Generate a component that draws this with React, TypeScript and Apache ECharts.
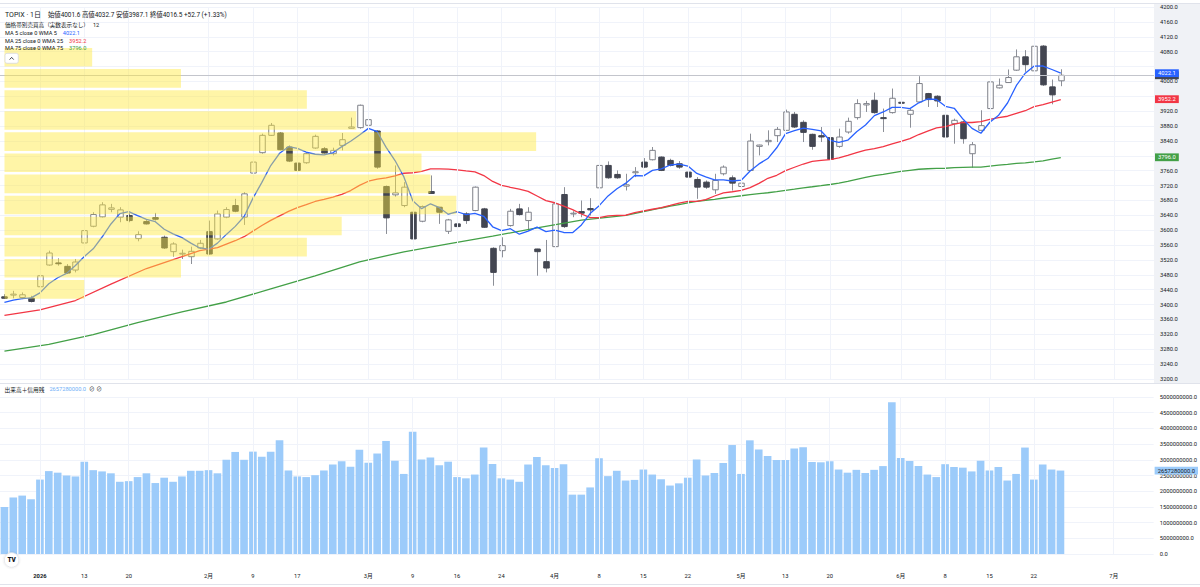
import React, { useEffect, useRef } from "react";
import * as echarts from "echarts";

const FONT = "Roboto, 'Noto Sans CJK JP', sans-serif";
const JP = "'Noto Sans CJK JP', Roboto, sans-serif";

// ---- categories (trading days) ----
const dec25 = ["12/25", "12/26", "12/29", "12/30"];
const jan26 = ["01/05", "01/06", "01/07", "01/08", "01/09", "01/13", "01/14", "01/15", "01/16", "01/19", "01/20", "01/21", "01/22", "01/23", "01/26", "01/27", "01/28", "01/29", "01/30"];
const feb26 = ["02/02", "02/03", "02/04", "02/05", "02/06", "02/09", "02/10", "02/12", "02/13", "02/16", "02/17", "02/18", "02/19", "02/20", "02/24", "02/25", "02/26", "02/27"];
const mar26 = ["03/02", "03/03", "03/04", "03/05", "03/06", "03/09", "03/10", "03/11", "03/12", "03/13", "03/16", "03/17", "03/18", "03/19", "03/23", "03/24", "03/25", "03/26", "03/27", "03/30", "03/31"];
const apr26 = ["04/01", "04/02", "04/03", "04/06", "04/07", "04/08", "04/09", "04/10", "04/13", "04/14", "04/15", "04/16", "04/17", "04/20", "04/21", "04/22", "04/23", "04/24", "04/27", "04/28", "04/30"];
const may26 = ["05/01", "05/07", "05/08", "05/11", "05/12", "05/13", "05/14", "05/15", "05/18", "05/19", "05/20", "05/21", "05/22", "05/25", "05/26", "05/27", "05/28", "05/29"];
const jun26 = ["06/01", "06/02", "06/03", "06/04", "06/05", "06/08", "06/09", "06/10", "06/11", "06/12", "06/15", "06/16", "06/17", "06/18", "06/19", "06/22", "06/23", "06/24", "06/25"];
const futureSlots = ["+1", "+2", "+3", "+4", "+5", "+6", "+7", "+8", "+9", "+10"];
const tradingDays = [...dec25, ...jan26, ...feb26, ...mar26, ...apr26, ...may26, ...jun26];
const categories = [...tradingDays, ...futureSlots];

// tick labels on the time axis: [category, text]
const timeTicks: [string, string][] = [
  ["01/05", "2026"], ["01/13", "13"], ["01/20", "20"], ["02/02", "2月"], ["02/09", "9"], ["02/17", "17"],
  ["03/02", "3月"], ["03/09", "9"], ["03/16", "16"], ["03/24", "24"], ["04/01", "4月"], ["04/08", "8"],
  ["04/15", "15"], ["04/22", "22"], ["05/01", "5月"], ["05/13", "13"], ["05/20", "20"], ["06/01", "6月"],
  ["06/08", "8"], ["06/15", "15"], ["06/22", "22"], ["+6", "7月"],
];
const yearTick = "01/05";

// ---- OHLC ----
const opens = [3421, 3425.5, 3419.2, 3417.4, 3448, 3506.4, 3512, 3502.8, 3492.9, 3565.7,
  3610.6, 3635.8, 3656, 3634.9, 3639.4, 3577.4, 3623.2, 3634, 3581, 3542.3,
  3536, 3528.8, 3552.2, 3596.2, 3576.5, 3634.9, 3666.3, 3634.9, 3753.5, 3808.3,
  3855, 3861.3, 3823.6, 3780.4, 3781.3, 3820.9, 3819, 3805.6, 3828, 3874,
  3875.7, 3882, 3866.7, 3717.5, 3695, 3666.3, 3648.3, 3624.1, 3704, 3661.8,
  3597.1, 3617, 3643.9, 3652.8, 3657.3, 3551.3, 3545, 3612.4, 3657.3, 3625.9,
  3549.5, 3515.4, 3555.8, 3696, 3644.8, 3650.1, 3658.2, 3713.9, 3774.1, 3749.9,
  3718.4, 3754.4, 3783.1, 3789.4, 3796.6, 3787.6, 3778.6, 3756.2, 3736.4, 3729.2,
  3708.5, 3751.7, 3740.9, 3717.5, 3760.6, 3825.3, 3837.9, 3854.1, 3868.5, 3911.6,
  3890, 3857.7, 3854.1, 3848.7, 3825.3, 3863.9, 3902.6, 3936.7, 3949.3, 3902.6,
  3916.1, 3943.9, 3911.6, 3944.8, 3967.3, 3960.1, 3908.9, 3886.4, 3891, 3805.6,
  3868.5, 3926.9, 3982.6, 3996.9, 4030.2, 4066.1, 4028.4, 4094.9, 3985.3, 4001.6];
const highs = [3428, 3437, 3432.7, 3423.7, 3486.6, 3545, 3524.4, 3509, 3522.6, 3609.7,
  3648.4, 3675.3, 3670.8, 3661.8, 3645.7, 3597.1, 3627.7, 3646.5, 3585.5, 3567.5,
  3547.7, 3555.8, 3573.8, 3625.9, 3652.8, 3661.8, 3684.3, 3702.3, 3823.6, 3859.5,
  3888.2, 3864, 3828, 3783.1, 3810, 3856.8, 3823.6, 3821.8, 3861.3, 3902.6,
  3937.7, 3899.9, 3868.5, 3720.2, 3774.1, 3729.2, 3650, 3666.3, 3747.2, 3662.5,
  3630.4, 3634.9, 3648.4, 3717.5, 3660, 3554, 3581, 3657.3, 3670.8, 3661.8,
  3550, 3573.8, 3675.3, 3715.7, 3651, 3679.8, 3686.1, 3778.6, 3784.9, 3760.7,
  3751.7, 3769.6, 3793.9, 3823.6, 3798.4, 3792.1, 3785.8, 3760.7, 3742.7, 3733.7,
  3751.7, 3774.1, 3747.2, 3733.7, 3859.5, 3829.8, 3868.5, 3877.4, 3924.2, 3917.9,
  3895.4, 3859.5, 3877.4, 3850.5, 3872.9, 3902.6, 3952, 3947.5, 3970, 3926.9,
  3980.8, 3971.8, 3926, 4014, 3969.1, 3962.8, 3922.4, 3899.9, 3893.6, 3837,
  3922.4, 4030.2, 4007.7, 4032, 4085.9, 4084.1, 4102.1, 4097.6, 4005, 4032.7];
const lows = [3415, 3417, 3414.7, 3405.8, 3446.2, 3504.6, 3504.6, 3482.1, 3486.6, 3563,
  3607.9, 3634, 3648.3, 3621.4, 3621.4, 3570.2, 3615.1, 3625.9, 3549.5, 3528.8,
  3522.6, 3509.1, 3549.5, 3534.2, 3574.7, 3632.2, 3648.3, 3614.2, 3751.7, 3805.6,
  3853.2, 3814.6, 3783.1, 3747.2, 3778.6, 3819, 3805.6, 3801.1, 3814.6, 3873,
  3873, 3823.6, 3765.1, 3589.9, 3690, 3661.8, 3495.6, 3621.4, 3697.8, 3617,
  3589.9, 3588.2, 3617, 3651, 3606.1, 3450.7, 3527, 3609.7, 3639.4, 3598.9,
  3477.6, 3486.6, 3554, 3606.1, 3634.9, 3634.9, 3639.4, 3711.2, 3738.2, 3738.2,
  3706.8, 3742.7, 3767, 3787.6, 3758.9, 3771.4, 3765.1, 3733.7, 3684.3, 3711.2,
  3697.7, 3747.2, 3706.7, 3693.2, 3760.6, 3801.1, 3828, 3837, 3866.7, 3874.7,
  3837, 3816.3, 3837, 3765.1, 3821.7, 3859.5, 3897.2, 3917.9, 3913.4, 3863.9,
  3913.4, 3931.3, 3875.6, 3942.1, 3931.3, 3931.3, 3819, 3832.5, 3832.5, 3767.8,
  3868.5, 3925.1, 3980.8, 3996, 4028.4, 4025.7, 4025.7, 3987.9, 3938.5, 3987.1];
const closes = [3417, 3428.2, 3426.4, 3408.4, 3477.6, 3538.7, 3510, 3484.8, 3514.5, 3598.9,
  3642.1, 3668.1, 3660, 3654.6, 3625.9, 3588.2, 3616.9, 3629.5, 3552.2, 3563,
  3538, 3543.2, 3564.8, 3536, 3643.9, 3655.5, 3651, 3697.8, 3783.1, 3855,
  3882, 3816.4, 3785.8, 3760.7, 3805.6, 3852.3, 3807.4, 3814.6, 3843.3, 3877.5,
  3935.9, 3897.2, 3769.6, 3633.1, 3700.4, 3715.7, 3576.5, 3663.6, 3698.7, 3648.3,
  3627.7, 3609.7, 3625.9, 3715.7, 3607.9, 3486.6, 3558.5, 3651, 3642, 3648.3,
  3542.3, 3498.3, 3670.8, 3609.7, 3645.7, 3645.7, 3654.6, 3774.1, 3740.9, 3740.9,
  3722, 3757.1, 3769.6, 3814.6, 3760.7, 3774.1, 3769.6, 3742.7, 3715.7, 3715.7,
  3733.7, 3769.6, 3726.5, 3726.5, 3839.7, 3828.9, 3841.5, 3871.1, 3917.9, 3877.4,
  3863, 3825.3, 3850.5, 3790.3, 3850.5, 3892.7, 3940.3, 3940.3, 3916.1, 3899.9,
  3954.7, 3941.2, 3922.4, 3994.2, 3951.1, 3947.5, 3850.5, 3895.4, 3846, 3829.8,
  3881, 3998.7, 3989.7, 4010.4, 4066.1, 4045, 4094.5, 3990.7, 3963.8, 4016.5];

// ---- volume (billions of shares) ----
const volumesBn = [1.5, 1.8, 1.86, 1.74, 2.37, 2.64, 2.59, 2.5, 2.47, 2.94,
  2.67, 2.63, 2.57, 2.3, 2.32, 2.45, 2.57, 2.26, 2.43, 2.3,
  2.47, 2.65, 2.65, 2.67, 2.57, 3.0, 3.25, 3.0, 3.26, 3.1,
  3.26, 3.62, 2.66, 2.47, 2.45, 2.51, 2.66, 2.85, 2.95, 2.78,
  3.32, 2.91, 3.2, 3.6, 2.97, 2.55, 3.89, 3.01, 3.07, 2.83,
  2.94, 2.45, 2.41, 2.53, 3.39, 2.87, 2.41, 2.37, 2.3, 2.85,
  3.09, 2.83, 2.74, 2.86, 1.89, 1.89, 2.12, 3.05, 2.48, 2.65,
  2.34, 2.36, 2.69, 2.53, 2.38, 2.18, 2.25, 2.43, 3.01, 2.5,
  2.58, 2.9, 3.47, 2.55, 3.62, 3.33, 3.12, 2.99, 2.99, 3.36,
  3.4, 2.93, 2.92, 2.95, 2.69, 2.59, 2.68, 2.58, 2.68, 2.8,
  4.83, 3.06, 2.96, 2.8, 2.53, 2.45, 2.86, 2.77, 2.75, 2.63,
  2.97, 2.66, 2.77, 2.34, 2.55, 3.39, 2.37, 2.85, 2.69, 2.65728];

const ma5Knots: [number, number][] = [[0, 3406], [1, 3412], [2, 3416], [3, 3418]];
const ma25Knots: [number, number][] = [[0, 3371], [4, 3386], [8, 3411], [12, 3455], [16, 3497], [20, 3529], [22, 3545]];
const ma75Knots: [number, number][] = [[0, 3275], [5, 3293], [10, 3319.5], [15, 3351.5], [20, 3380.6], [25, 3407], [30, 3442], [35, 3477], [40, 3515], [45, 3542], [50, 3563], [55, 3584], [60, 3606], [65, 3627], [70, 3640]];
const maLegendValues = { ma5: 4022.1, ma25: 3952.2, ma75: 3796.0 };

// ---- volume profile (12 rows, top to bottom, billions of shares) ----
const vpHigh = 4093.3;
const vpLow = 3412.6;
const vpRowsVolBn = [7.8, 15.7, 26.9, 31.3, 47.3, 37.1, 37.9, 40.2, 30.0, 26.9, 15.7, 7.1];

// ---- axes ----
const priceMin = 3200, priceMax = 4200, priceStep = 40;
const volMin = 0, volMax = 5e9, volStep = 5e8;

// ---- styles ----
const C_MA5 = "#2962ff", C_MA25 = "#f23645", C_MA75 = "#43a047";
const C_UP_BORDER = "#7e8089", C_DOWN = "#434651", C_WICK = "#8c8f97";
const C_VOL = "#9ccbfa";
const C_TEXT = "#131722";
const GRID_LINE = "#f0f3fa";
const PANE_W = 1154;

function movingAverage(n: number, knots: [number, number][]) {
  const known = new Map(knots);
  return closes.map((_, i) => {
    if (i < n - 1) return known.has(i) ? (known.get(i) as number) : null;
    let s = 0;
    for (let k = i - n + 1; k <= i; k++) s += closes[k];
    return Math.round((s / n) * 100) / 100;
  });
}

function buildOption() {
  const last = closes.length - 1;
  const chg = closes[last] - closes[last - 1];
  const pct = (chg / closes[last - 1]) * 100;
  const sign = chg >= 0 ? "+" : "";
  const ohlcText = `始値${opens[last].toFixed(1)} 高値${highs[last].toFixed(1)} 安値${lows[last].toFixed(1)} 終値${closes[last].toFixed(1)} ${sign}${chg.toFixed(1)} (${sign}${pct.toFixed(2)}%)`;

  const volumes = volumesBn.map((v) => Math.round(v * 1e9));
  const lastVol = volumes[volumes.length - 1];

  const ma5 = movingAverage(5, ma5Knots);
  const ma25 = movingAverage(25, ma25Knots);
  const ma75 = movingAverage(75, ma75Knots);

  const candleData = closes.map((c, i) => [i, opens[i], c, lows[i], highs[i]]);
  const vpRowSize = (vpHigh - vpLow) / vpRowsVolBn.length;
  const vpData = vpRowsVolBn.map((v, r) => [v, vpHigh - r * vpRowSize, vpHigh - (r + 1) * vpRowSize]);
  const tickMap = new Map(timeTicks);

  // axis labels covered by the MA value tags on the price scale are not drawn
  const tagValues = [maLegendValues.ma5, maLegendValues.ma25, maLegendValues.ma75];
  const priceLabel = (v: number) => (tagValues.some((t) => Math.abs(t - v) < 18) ? "" : v.toFixed(1));

  const vLines = timeTicks.map(([k]) => ({ xAxis: k }));
  const gridMark = {
    symbol: ["none", "none"],
    silent: true,
    animation: false,
    label: { show: false },
    lineStyle: { color: GRID_LINE, width: 1, type: "solid" },
    data: vLines,
  };

  const axisTag = (value: number, bg: string, fg: string, text: string) => ({
    yAxis: value,
    lineStyle: { color: "rgba(0,0,0,0)", width: 1 },
    label: {
      show: true,
      position: "end",
      distance: 1,
      formatter: () => text,
      backgroundColor: bg,
      color: fg,
      fontSize: 5.8,
      fontFamily: FONT,
      padding: [1, 3, 1, 3],
    },
  });

  const maSeries = (name: string, data: (number | null)[], color: string, tag: number) => ({
    name,
    type: "line",
    xAxisIndex: 0,
    yAxisIndex: 0,
    data,
    connectNulls: true,
    showSymbol: false,
    symbol: "none",
    silent: true,
    z: 3,
    lineStyle: { color, width: 1.3 },
    markLine: {
      symbol: ["none", "none"],
      silent: true,
      animation: false,
      data: [axisTag(tag, color, "#ffffff", tag.toFixed(1))],
    },
  });

  const txt = (x: number, y: number, text: string, rich: any, z = 10) => ({
    type: "text",
    x,
    y,
    z,
    style: { text, rich, verticalAlign: "middle", textVerticalAlign: "middle" },
  });

  const legendRich = (valueColor: string) => ({
    a: { fontSize: 5.6, fontFamily: FONT, fill: C_TEXT },
    v: { fontSize: 5.6, fontFamily: FONT, fill: valueColor, padding: [0, 0, 0, 6] },
  });

  return {
    animation: false,
    backgroundColor: "#ffffff",
    textStyle: { fontFamily: FONT },
    grid: [
      { left: 0, top: 7, width: PANE_W, height: 372 },
      { left: 0, top: 397, width: PANE_W, height: 157 },
    ],
    xAxis: [
      {
        type: "category", gridIndex: 0, data: categories, boundaryGap: true,
        axisLine: { show: false }, axisTick: { show: false }, axisLabel: { show: false }, splitLine: { show: false },
      },
      {
        type: "category", gridIndex: 1, data: categories, boundaryGap: true,
        axisLine: { show: false }, axisTick: { show: false }, splitLine: { show: false },
        axisLabel: {
          show: true,
          interval: (_i: number, value: string) => tickMap.has(value),
          formatter: (value: string) => (value === yearTick ? `{y|${tickMap.get(value)}}` : tickMap.get(value) || ""),
          margin: 19,
          fontSize: 5.8,
          color: C_TEXT,
          fontFamily: FONT,
          rich: { y: { fontSize: 5.8, fontWeight: "bold", color: C_TEXT, fontFamily: FONT } },
        },
      },
      { type: "value", gridIndex: 0, min: -0.4, max: 102.27, show: false },
    ],
    yAxis: [
      {
        type: "value", gridIndex: 0, position: "right", min: priceMin, max: priceMax, interval: priceStep,
        axisLine: { show: false }, axisTick: { show: false },
        axisLabel: { formatter: priceLabel, fontSize: 5.8, color: C_TEXT, margin: 6, fontFamily: FONT },
        splitLine: { lineStyle: { color: GRID_LINE, width: 1 } },
      },
      {
        type: "value", gridIndex: 1, position: "right", min: volMin, max: volMax, interval: volStep,
        axisLine: { show: false }, axisTick: { show: false },
        axisLabel: { formatter: (v: number) => v.toFixed(1), fontSize: 5.8, color: C_TEXT, margin: 6, fontFamily: FONT },
        splitLine: { lineStyle: { color: GRID_LINE, width: 1 } },
      },
    ],
    series: [
      {
        name: "grid-price", type: "line", xAxisIndex: 0, yAxisIndex: 0, data: closes, z: 1,
        showSymbol: false, symbol: "none", silent: true, lineStyle: { opacity: 0 },
        markLine: {
          ...gridMark,
          data: [
            ...vLines,
            {
              yAxis: closes[last],
              lineStyle: { color: "#c3c5cc", width: 1, type: "solid" },
              label: {
                show: true, position: "end", distance: 1, formatter: () => closes[last].toFixed(1),
                backgroundColor: C_DOWN, color: "#ffffff", fontSize: 5.8, fontFamily: FONT, padding: [1, 3, 1, 3],
              },
            },
          ],
        },
      },
      {
        name: "TOPIX", type: "custom", xAxisIndex: 0, yAxisIndex: 0, z: 2, clip: true, silent: true,
        data: candleData,
        encode: { x: 0, y: [1, 2, 3, 4] },
        renderItem: (_p: any, api: any) => {
          const i = api.value(0), o = api.value(1), c = api.value(2), l = api.value(3), h = api.value(4);
          const po = api.coord([i, o]);
          const yc = api.coord([i, c])[1];
          const yh = api.coord([i, h])[1];
          const yl = api.coord([i, l])[1];
          const bw = api.size([1, 0])[0] * 0.62;
          const x = Math.round(po[0]) + 0.5;
          const top = Math.min(po[1], yc);
          const bot = Math.max(po[1], yc);
          const up = c >= o;
          return {
            type: "group",
            children: [
              { type: "line", shape: { x1: x, y1: yh, x2: x, y2: yl }, style: { stroke: C_WICK, lineWidth: 1 } },
              {
                type: "rect",
                shape: { x: x - bw / 2, y: top, width: bw, height: Math.max(bot - top, 0.8) },
                style: { fill: up ? "#ffffff" : C_DOWN, stroke: up ? C_UP_BORDER : C_DOWN, lineWidth: 1 },
              },
            ],
          };
        },
      },
      maSeries("MA 75", ma75, C_MA75, maLegendValues.ma75),
      maSeries("MA 25", ma25, C_MA25, maLegendValues.ma25),
      maSeries("MA 5", ma5, C_MA5, maLegendValues.ma5),
      {
        name: "価格帯別売買高", type: "custom", xAxisIndex: 2, yAxisIndex: 0, z: 5, silent: true,
        data: vpData,
        encode: { x: 0, y: [1, 2] },
        renderItem: (_p: any, api: any) => {
          const p0 = api.coord([0, api.value(1)]);
          const p1 = api.coord([api.value(0), api.value(2)]);
          return {
            type: "rect",
            shape: { x: p0[0], y: p0[1] + 1.25, width: p1[0] - p0[0], height: p1[1] - p0[1] - 2.5 },
            style: { fill: "rgba(255, 233, 60, 0.45)" },
          };
        },
      },
      {
        name: "grid-volume", type: "line", xAxisIndex: 1, yAxisIndex: 1, data: volumes, z: 1,
        showSymbol: false, symbol: "none", silent: true, lineStyle: { opacity: 0 },
        markLine: gridMark,
      },
      {
        name: "出来高＋信用残", type: "bar", xAxisIndex: 1, yAxisIndex: 1, data: volumes, z: 2, silent: true,
        barWidth: "86%",
        itemStyle: { color: C_VOL },
        markLine: {
          symbol: ["none", "none"], silent: true, animation: false,
          data: [axisTag(lastVol, C_VOL, C_TEXT, lastVol.toFixed(1))],
        },
      },
    ],
    graphic: [
      { type: "rect", z: -1, shape: { x: PANE_W, y: 4, width: 1200 - PANE_W, height: 379 }, style: { fill: "#f0f2f6" } },
      { type: "line", z: 1, shape: { x1: 0, y1: 3.5, x2: 1200, y2: 3.5 }, style: { stroke: "#e0e3eb", lineWidth: 1 } },
      { type: "line", z: 1, shape: { x1: 0, y1: 383.5, x2: 1200, y2: 383.5 }, style: { stroke: "#e0e3eb", lineWidth: 1 } },
      { type: "line", z: 1, shape: { x1: 0, y1: 584.5, x2: 1200, y2: 584.5 }, style: { stroke: "#e0e3eb", lineWidth: 1 } },
      txt(5, 15, `{t|TOPIX · 1日}{o|${ohlcText}}`, {
        t: { fontSize: 7, fontFamily: FONT, fill: C_TEXT, padding: [0, 7, 0, 0] },
        o: { fontSize: 6.4, fontFamily: FONT, fill: C_TEXT },
      }),
      txt(5, 25, "{a|価格帯別売買高（実数表示なし）}{v|12}", {
        a: { fontSize: 5.6, fontFamily: JP, fill: C_TEXT },
        v: { fontSize: 5.6, fontFamily: FONT, fill: C_TEXT, padding: [0, 0, 0, 4] },
      }),
      txt(5, 33.3, `{a|MA 5 close 0 WMA 5}{v|${maLegendValues.ma5.toFixed(1)}}`, legendRich(C_MA5)),
      txt(5, 40.8, `{a|MA 25 close 0 WMA 25}{v|${maLegendValues.ma25.toFixed(1)}}`, legendRich(C_MA25)),
      txt(5, 48.3, `{a|MA 75 close 0 WMA 75}{v|${maLegendValues.ma75.toFixed(1)}}`, legendRich(C_MA75)),
      { type: "rect", z: 11, shape: { x: 5, y: 53.3, width: 13.3, height: 10, r: 2 }, style: { fill: "#ffffff", stroke: "#d6d8de", lineWidth: 0.8 } },
      { type: "polyline", z: 12, shape: { points: [[9.6, 59.6], [11.65, 57.4], [13.7, 59.6]] }, style: { stroke: C_TEXT, lineWidth: 0.8, fill: "none" } },
      txt(4.6, 389.3, `{a|出来高＋信用残}{v|${lastVol.toFixed(1)}}{i|⊘ ⊘}`, {
        a: { fontSize: 5.7, fontFamily: JP, fill: C_TEXT },
        v: { fontSize: 5.7, fontFamily: FONT, fill: "#6fb0f7", padding: [0, 0, 0, 5] },
        i: { fontSize: 5.7, fontFamily: FONT, fill: C_TEXT, padding: [0, 0, 0, 3] },
      }),
      { type: "circle", z: 11, shape: { cx: 11.6, cy: 560, r: 7.3 }, style: { fill: "#ffffff", stroke: "#e3e5ea", lineWidth: 0.8, shadowBlur: 2, shadowColor: "rgba(0,0,0,0.15)" } },
      {
        type: "text", z: 12, x: 11.6, y: 560.3,
        style: { text: "TV", fontSize: 6.5, fontWeight: 900, fontFamily: FONT, fill: "#131722", align: "center", textAlign: "center", verticalAlign: "middle", textVerticalAlign: "middle" },
      },
    ],
  };
}

export default function App() {
  const ref = useRef<HTMLDivElement>(null);
  useEffect(() => {
    if (!ref.current) return;
    const chart = echarts.init(ref.current, null, { renderer: "svg" });
    chart.setOption(buildOption() as any);
    return () => chart.dispose();
  }, []);
  return <div ref={ref} style={{ position: "fixed", left: 0, top: 0, width: 1200, height: 587 }} />;
}
